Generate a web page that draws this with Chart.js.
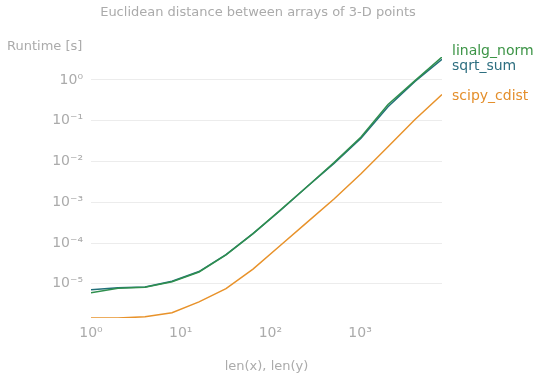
<!DOCTYPE html>
<html>
<head>
<meta charset="utf-8">
<script src="https://cdn.jsdelivr.net/npm/chart.js@4/dist/chart.umd.min.js"></script>
<style>
  html, body { margin: 0; padding: 0; background: #ffffff; }
  #wrap { width: 540px; height: 380px; position: relative; }
</style>
</head>
<body>
<div id="wrap"><canvas id="c" width="540" height="380"></canvas></div>
<script>
// ---- data ----
const sizes = [1, 2, 4, 8, 16, 32, 64, 128, 256, 512, 1024, 2048, 4096, 8192];
const linalgNorm = [6.0e-6, 7.8e-6, 8.2e-6, 1.12e-5, 1.95e-5, 5.1e-5, 1.7e-4, 6.3e-4, 2.4e-3, 9.4e-3, 4.0e-2, 2.5e-1, 9.6e-1, 3.65];
const sqrtSum    = [7.1e-6, 8.0e-6, 8.3e-6, 1.15e-5, 2.0e-5, 5.2e-5, 1.7e-4, 6.2e-4, 2.4e-3, 9.0e-3, 3.7e-2, 2.2e-1, 9.2e-1, 3.2];
const scipyCdist = [1.45e-6, 1.45e-6, 1.55e-6, 1.95e-6, 3.6e-6, 7.6e-6, 2.3e-5, 8.6e-5, 3.2e-4, 1.2e-3, 5.0e-3, 2.3e-2, 1.07e-1, 4.4e-1];
const seriesNames = ['linalg_norm', 'sqrt_sum', 'scipy_cdist'];
const xTickValues = [1, 10, 100, 1000];
const xTickLabels = ['10\u2070', '10\u00B9', '10\u00B2', '10\u00B3'];
const yTickValues = [1, 1e-1, 1e-2, 1e-3, 1e-4, 1e-5];
const yTickLabels = ['10\u2070', '10\u207B\u00B9', '10\u207B\u00B2', '10\u207B\u00B3', '10\u207B\u2074', '10\u207B\u2075'];
const chartTitle = 'Euclidean distance between arrays of 3-D points';
const yTitle = 'Runtime [s]';
const xTitle = 'len(x), len(y)';

// ---- styling ----
const colors = ['#2f8f4e', '#22707a', '#e8922a'];
const labelColors = ['#3c9446', '#2e6f80', '#e48f2c'];
const gray = '#ababab';
const FONT = '"DejaVu Sans", sans-serif';

const allVals = linalgNorm.concat(sqrtSum, scipyCdist);
const yMin = Math.min.apply(null, allVals);
const yMax = Math.max.apply(null, allVals);

const seriesData = [linalgNorm, sqrtSum, scipyCdist];
const datasets = seriesData.map((arr, i) => ({
  label: seriesNames[i],
  data: sizes.map((s, j) => ({ x: s, y: arr[j] })),
  borderColor: colors[i],
  backgroundColor: colors[i],
  borderWidth: 1.5,
  pointRadius: 0,
  tension: 0,
  fill: false
}));

const labelOffsets = [-6, 7, 2];

const decorPlugin = {
  id: 'decor',
  afterDraw(chart) {
    const ctx = chart.ctx;
    const ys = chart.scales.y;
    const xs = chart.scales.x;
    ctx.save();
    ctx.fillStyle = gray;
    ctx.font = '13px ' + FONT;
    ctx.textAlign = 'center';
    ctx.textBaseline = 'middle';
    ctx.fillText(chartTitle, 258, 13);
    ctx.textAlign = 'left';
    ctx.font = '13px ' + FONT;
    ctx.fillText(yTitle, 7, 47);
    // end-of-line labels
    ctx.font = '14px ' + FONT;
    const lastX = sizes[sizes.length - 1];
    seriesData.forEach((arr, i) => {
      const py = ys.getPixelForValue(arr[arr.length - 1]) + labelOffsets[i];
      const px = xs.getPixelForValue(lastX) + 10;
      ctx.fillStyle = labelColors[i];
      ctx.fillText(seriesNames[i], px, py);
    });
    ctx.restore();
  }
};

new Chart(document.getElementById('c'), {
  type: 'line',
  data: { datasets },
  options: {
    responsive: false,
    animation: false,
    devicePixelRatio: 1,
    layout: { padding: { left: 0, right: 98, top: 57, bottom: 0 } },
    plugins: { legend: { display: false }, tooltip: { enabled: false }, title: { display: false } },
    scales: {
      x: {
        type: 'logarithmic',
        min: sizes[0],
        max: sizes[sizes.length - 1],
        border: { display: false },
        grid: { display: false, drawTicks: false },
        afterBuildTicks(scale) { scale.ticks = xTickValues.map(v => ({ value: v })); },
        afterFit(scale) { scale.height = 62; },
        ticks: {
          color: gray,
          font: { family: FONT, size: 14 },
          padding: 7,
          maxRotation: 0,
          autoSkip: false,
          callback(value) { const k = xTickValues.indexOf(value); return k >= 0 ? xTickLabels[k] : ''; }
        },
        title: {
          display: true,
          text: xTitle,
          color: gray,
          font: { family: FONT, size: 13 },
          padding: { top: 0, bottom: 6 }
        }
      },
      y: {
        type: 'logarithmic',
        min: yMin,
        max: yMax,
        border: { display: false },
        grid: { color: '#ececec', lineWidth: 1, drawTicks: false },
        afterBuildTicks(scale) { scale.ticks = yTickValues.map(v => ({ value: v })); },
        afterFit(scale) { scale.width = 91; },
        ticks: {
          color: gray,
          font: { family: FONT, size: 14 },
          padding: 8,
          autoSkip: false,
          callback(value) {
            const k = yTickValues.findIndex(v => Math.abs(v - value) / v < 1e-6);
            return k >= 0 ? yTickLabels[k] : '';
          }
        }
      }
    }
  },
  plugins: [decorPlugin]
});
</script>
</body>
</html>
